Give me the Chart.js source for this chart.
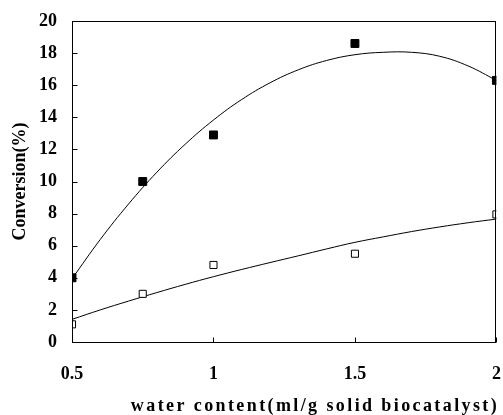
<!DOCTYPE html>
<html>
<head>
<meta charset="utf-8">
<script src="https://cdn.jsdelivr.net/npm/chart.js@4"></script>
<style>
  html, body { margin: 0; padding: 0; background: #fff; }
</style>
</head>
<body>
<canvas id="myChart" width="503" height="415"></canvas>
<script>
// measured points
const waterContent = [0.5, 0.75, 1, 1.5, 2]
const filledConv = [4.0, 10.0, 12.9, 18.6, 16.3]
const openConv = [1.1, 3.0, 4.8, 5.5, 7.95]

// fitted curves
const fitX = [0.5, 0.6, 0.7, 0.8, 0.9, 1.0, 1.1, 1.2, 1.3, 1.4, 1.5, 1.6, 1.7, 1.8, 1.9, 2.0]
const filledFit = [3.94, 6.39, 8.6, 10.58, 12.32, 13.83, 15.11, 16.15, 16.96, 17.54, 17.9, 18.05, 18.05, 17.8, 17.2, 16.3]
const openFit = [1.41, 2.0, 2.55, 3.08, 3.59, 4.07, 4.52, 4.95, 5.37, 5.8, 6.21, 6.55, 6.88, 7.17, 7.43, 7.66]

const xTickLabels = ['0.5', '1', '1.5', '2']
const xTitle = 'water content(ml/g solid biocatalyst)'
const yTitle = 'Conversion(%)'

const serif = '"Liberation Serif", "Times New Roman", serif'

function toPoints(xs, ys) {
    return xs.map((x, i) => ({ x: x, y: ys[i] }))
}

// box around the plot, inward tick marks, x axis title
const frame = {
    id: 'frame',
    afterDraw(chart) {
        const ctx = chart.ctx
        const a = chart.chartArea
        const xs = chart.scales.x
        const ys = chart.scales.y
        const L = Math.round(a.left) + 0.5
        const R = Math.round(a.right) - 0.5
        const T = Math.round(a.top) + 0.5
        const B = Math.round(a.bottom) + 0.5
        ctx.save()
        ctx.strokeStyle = '#000'
        ctx.lineWidth = 1
        ctx.strokeRect(L, T, R - L, B - T)
        ctx.beginPath()
        ys.ticks.forEach(t => {
            const py = Math.round(ys.getPixelForValue(t.value)) + 0.5
            ctx.moveTo(L, py)
            ctx.lineTo(L + 5, py)
        })
        xs.ticks.forEach(t => {
            const px = Math.round(xs.getPixelForValue(t.value)) + 0.5
            ctx.moveTo(px, B)
            ctx.lineTo(px, B - 5)
        })
        ctx.stroke()
        ctx.fillStyle = '#000'
        ctx.font = 'bold 18px ' + serif
        ctx.letterSpacing = '2.4px'
        ctx.textAlign = 'center'
        ctx.textBaseline = 'middle'
        ctx.fillText(xTitle, 315, 406)
        ctx.restore()
    }
}

const data = {
    datasets: [
        {
            type: 'scatter',
            data: toPoints(waterContent, filledConv),
            pointStyle: 'rect',
            pointRadius: 5.6,
            backgroundColor: '#000',
            borderColor: '#000',
            borderWidth: 1
        },
        {
            type: 'scatter',
            data: toPoints(waterContent, openConv),
            pointStyle: 'rect',
            pointRadius: 5,
            backgroundColor: '#fff',
            borderColor: '#000',
            borderWidth: 1
        },
        {
            type: 'line',
            data: toPoints(fitX, filledFit),
            borderColor: '#000',
            borderWidth: 1,
            pointRadius: 0,
            tension: 0.4,
            fill: false
        },
        {
            type: 'line',
            data: toPoints(fitX, openFit),
            borderColor: '#000',
            borderWidth: 1,
            pointRadius: 0,
            tension: 0.4,
            fill: false
        }
    ]
}

const config = {
    type: 'scatter',
    data: data,
    plugins: [frame],
    options: {
        responsive: false,
        animation: false,
        devicePixelRatio: 1,
        layout: { padding: { top: 21, right: 5, left: 0, bottom: 0 } },
        plugins: { legend: { display: false }, tooltip: { enabled: false } },
        scales: {
            x: {
                type: 'linear',
                min: 0.5,
                max: 2,
                afterFit(scale) {
                    scale.height = 73
                    scale.paddingLeft = 0
                    scale.paddingRight = 0
                },
                ticks: {
                    stepSize: 0.5,
                    padding: 22,
                    color: '#000',
                    font: { family: serif, size: 18, weight: 'bold' },
                    callback: (v, i) => xTickLabels[i]
                },
                grid: { display: false, drawTicks: false },
                border: { display: false }
            },
            y: {
                min: 0,
                max: 20,
                afterFit(scale) {
                    scale.width = 72
                    scale.paddingTop = 0
                    scale.paddingBottom = 0
                },
                ticks: {
                    stepSize: 2,
                    padding: 15,
                    color: '#000',
                    font: { family: serif, size: 18, weight: 'bold' }
                },
                title: {
                    display: true,
                    text: yTitle,
                    color: '#000',
                    padding: { top: 10, bottom: 0 },
                    font: { family: serif, size: 18, weight: 'bold' }
                },
                grid: { display: false, drawTicks: false },
                border: { display: false }
            }
        }
    }
}

const myChart = new Chart(document.getElementById('myChart'), config)
</script>
</body>
</html>
